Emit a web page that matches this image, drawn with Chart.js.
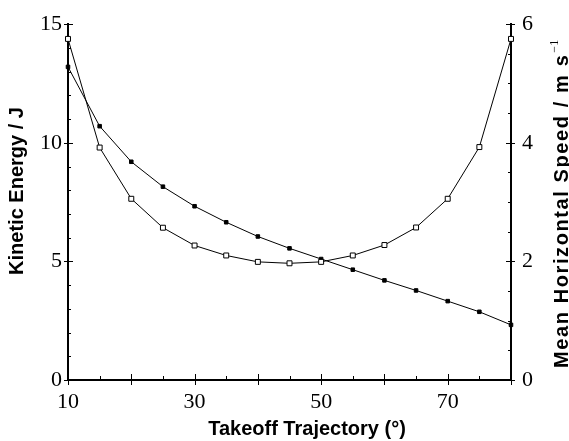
<!DOCTYPE html>
<html lang="en">
<head>
<meta charset="UTF-8">
<title>Takeoff trajectory</title>
<script src="https://cdn.jsdelivr.net/npm/chart.js"></script>
<style>
  body { margin: 0; background: #fff; }
  #wrap { width: 569px; height: 441px; position: relative; }
</style>
</head>
<body>
<div id="wrap"><canvas id="myChart"></canvas></div>
<script>
  // takeoff angle (deg)
  const angles = [10, 15, 20, 25, 30, 35, 40, 45, 50, 55, 60, 65, 70, 75, 80];
  // open squares, left axis (J)
  const kineticEnergy = [14.38, 9.8, 7.64, 6.42, 5.67, 5.25, 4.98, 4.92, 4.98, 5.25, 5.69, 6.43, 7.64, 9.82, 14.38];
  // filled squares, right axis (m/s)
  const horizontalSpeed = [5.28, 4.28, 3.68, 3.26, 2.93, 2.66, 2.42, 2.22, 2.04, 1.86, 1.68, 1.51, 1.33, 1.15, 0.93];
  const xTickLabels = [10, 30, 50, 70];

  const serif = "'Liberation Serif', 'Times New Roman', serif";
  const sans = "'Liberation Sans', Arial, sans-serif";

  const axisDecor = {
    id: 'axisDecor',
    afterDraw(chart) {
      const ctx = chart.ctx;
      const { x, y, y1 } = chart.scales;
      const area = chart.chartArea;
      ctx.save();
      ctx.strokeStyle = '#000';
      ctx.lineWidth = 1;
      ctx.beginPath();
      for (let v = 10; v <= 80; v += 5) {
        const px = Math.round(x.getPixelForValue(v)) + 0.5;
        const major = v % 10 === 0;
        ctx.moveTo(px, area.bottom - (major ? 6 : 4));
        ctx.lineTo(px, area.bottom + (major ? 5 : 0));
      }
      for (let v = 0; v <= 15; v++) {
        const py = Math.round(y.getPixelForValue(v)) + 0.5;
        const major = v % 5 === 0;
        ctx.moveTo(area.left - (major ? 4 : 0), py);
        ctx.lineTo(area.left + (major ? 5 : 3), py);
      }
      for (let v = 0; v <= 6; v += 0.5) {
        const py = Math.round(y1.getPixelForValue(v)) + 0.5;
        const major = v % 2 === 0;
        ctx.moveTo(area.right + (major ? 4 : 0), py);
        ctx.lineTo(area.right - (major ? 5 : 3), py);
      }
      ctx.stroke();

      // axis titles
      ctx.fillStyle = '#000';
      ctx.font = 'bold 20px ' + sans;
      ctx.textBaseline = 'alphabetic';
      ctx.textAlign = 'center';
      ctx.fillText('Takeoff Trajectory (°)', 307, 435);

      ctx.save();
      ctx.translate(23, 191);
      ctx.rotate(-Math.PI / 2);
      ctx.fillText('Kinetic Energy / J', 0, 0);
      ctx.restore();

      ctx.save();
      ctx.translate(568, 368);
      ctx.rotate(-Math.PI / 2);
      ctx.textAlign = 'left';
      ctx.letterSpacing = '1.6px';
      const main = 'Mean Horizontal Speed / m s';
      ctx.fillText(main, 0, 0);
      const w = ctx.measureText(main).width;
      ctx.letterSpacing = '0px';
      ctx.font = '12px ' + serif;
      ctx.fillText('\u22121', w + 1, -10);
      ctx.restore();

      ctx.restore();
    }
  };

  const ctx = document.getElementById('myChart').getContext('2d');

  new Chart(ctx, {
    type: 'line',
    data: {
      datasets: [{
        label: 'Kinetic Energy',
        data: angles.map((a, i) => ({ x: a, y: kineticEnergy[i] })),
        yAxisID: 'y',
        borderColor: '#000',
        borderWidth: 1,
        pointStyle: 'rect',
        pointRadius: 3.5,
        pointBackgroundColor: '#fff',
        pointBorderColor: '#000',
        pointBorderWidth: 1,
        tension: 0,
        clip: false
      }, {
        label: 'Mean Horizontal Speed',
        data: angles.map((a, i) => ({ x: a, y: horizontalSpeed[i] })),
        yAxisID: 'y1',
        borderColor: '#000',
        borderWidth: 1,
        pointStyle: 'rect',
        pointRadius: 2.5,
        pointBackgroundColor: '#000',
        pointBorderColor: '#000',
        pointBorderWidth: 1,
        tension: 0,
        clip: false
      }]
    },
    options: {
      responsive: true,
      maintainAspectRatio: false,
      animation: false,
      layout: { padding: { top: 20, left: 0, right: 0, bottom: 0 } },
      plugins: {
        legend: { display: false },
        tooltip: { enabled: false }
      },
      scales: {
        x: {
          type: 'linear',
          position: 'bottom',
          min: 10,
          max: 80,
          afterFit(s) { s.height = 61; },
          grid: { display: false, drawTicks: false },
          border: { display: true, color: '#000', width: 2 },
          ticks: {
            stepSize: 5,
            autoSkip: false,
            maxRotation: 0,
            padding: 9,
            color: '#000',
            font: { family: serif, size: 22 },
            callback: v => xTickLabels.includes(v) ? String(v) : ''
          }
        },
        y: {
          position: 'left',
          min: 0,
          max: 15,
          afterFit(s) { s.width = 68; },
          grid: { display: false, drawTicks: false },
          border: { display: true, color: '#000', width: 2 },
          ticks: {
            stepSize: 5,
            padding: 6,
            color: '#000',
            font: { family: serif, size: 22 }
          }
        },
        y1: {
          position: 'right',
          min: 0,
          max: 6,
          afterFit(s) { s.width = 58; },
          grid: { display: false, drawTicks: false },
          border: { display: true, color: '#000', width: 2 },
          ticks: {
            stepSize: 2,
            padding: 11,
            color: '#000',
            font: { family: serif, size: 22 }
          }
        }
      }
    },
    plugins: [axisDecor]
  });
</script>
</body>
</html>
